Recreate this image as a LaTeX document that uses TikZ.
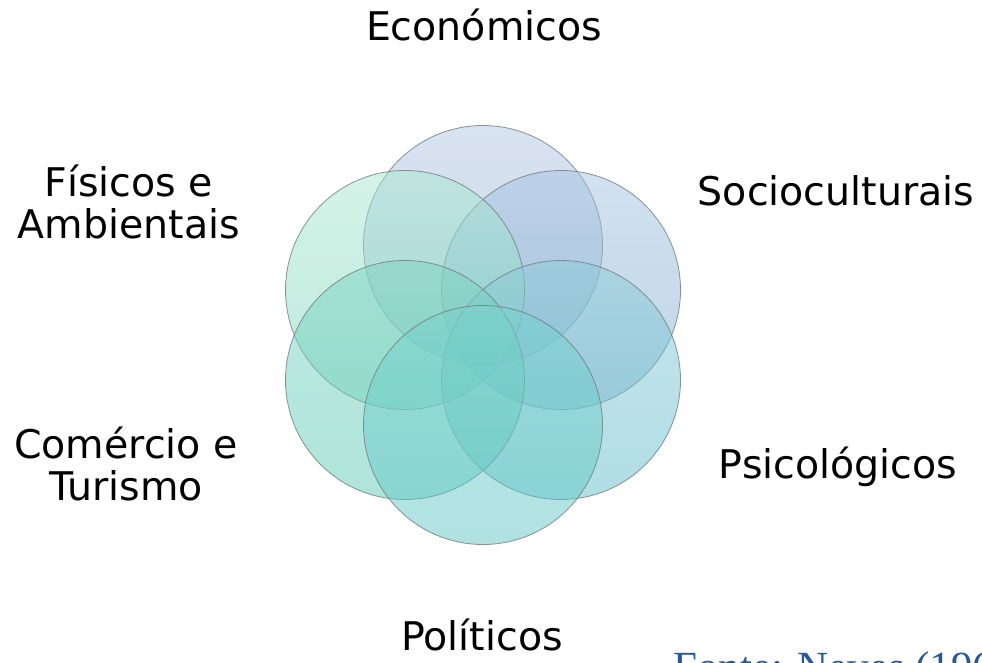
\documentclass[tikz,border=0pt]{standalone}
\usepackage{fontspec}
\setmainfont{DejaVu Sans}
\newfontfamily\srcfont{Liberation Serif}
\definecolor{srcblue}{RGB}{40,88,155}
\definecolor{ringline}{RGB}{115,128,132}
\definecolor{eTop}{RGB}{178,198,226}\definecolor{eBot}{RGB}{150,178,215}
\definecolor{sTop}{RGB}{165,196,224}\definecolor{sBot}{RGB}{125,172,206}
\definecolor{pTop}{RGB}{140,202,215}\definecolor{pBot}{RGB}{100,188,204}
\definecolor{oTop}{RGB}{120,210,206}\definecolor{oBot}{RGB}{95,198,196}
\definecolor{cTop}{RGB}{125,212,192}\definecolor{cBot}{RGB}{95,202,184}
\definecolor{fTop}{RGB}{170,232,210}\definecolor{fBot}{RGB}{120,212,185}
\begin{document}
\begin{tikzpicture}[x=1pt,y=-1pt,
  lbl/.style={font=\fontsize{39.5}{42}\selectfont, align=center, inner sep=0pt, anchor=base},
  ring/.style={circle, minimum size=239pt, inner sep=0pt, draw=ringline, line width=0.8pt,
    fill opacity=0.5, draw opacity=0.85, shade, shading angle=0}]
\useasboundingbox (0,0) rectangle (982,662);
\clip (0,0) rectangle (982,662);
% circles
\node[ring, top color=eTop, bottom color=eBot] (econ) at (483,245) {};
\node[ring, top color=sTop, bottom color=sBot] (socio) at (561,290) {};
\node[ring, top color=fTop, bottom color=fBot] (fis) at (405,290) {};
\node[ring, top color=pTop, bottom color=pBot] (psi) at (561,380) {};
\node[ring, top color=cTop, bottom color=cBot] (com) at (405,380) {};
\node[ring, top color=oTop, bottom color=oBot] (pol) at (483,425) {};
% labels
\node[lbl] (tEcon) at (484,40) {Económicos};
\node[lbl] (tSocio) at (836,205) {Socioculturais};
\node[lbl] (tFis) at (129,238) {Físicos e\\Ambientais};
\node[lbl] (tCom) at (126,500) {Comércio e\\Turismo};
\node[lbl] (tPsi) at (838,478) {Psicológicos};
\node[lbl] (tPol) at (482,650) {Políticos};
\node[anchor=base west, inner sep=0pt, text=srcblue,
  font=\srcfont\fontsize{43}{43}\selectfont] (src) at (673,681) {Fonte: Neves (196};
\end{tikzpicture}
\end{document}
